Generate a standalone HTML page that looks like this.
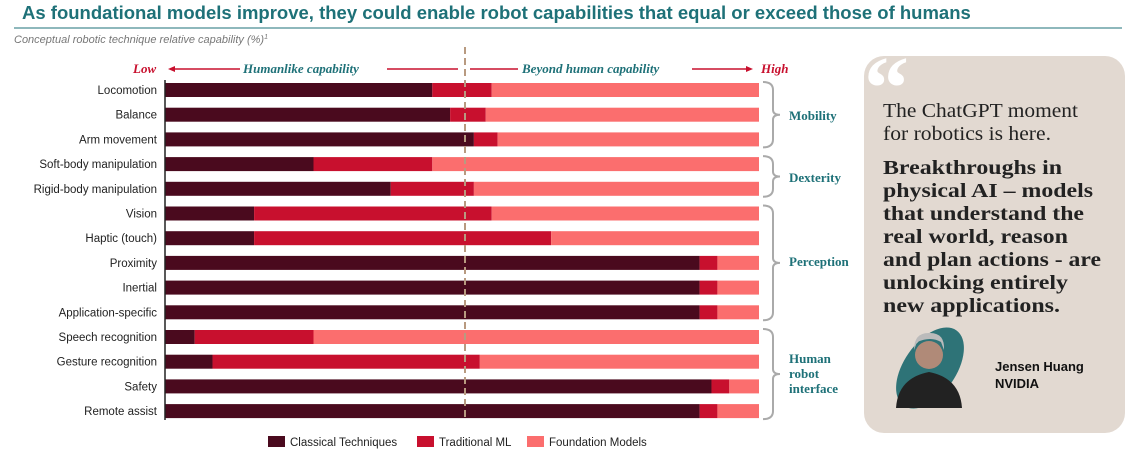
<!DOCTYPE html>
<html><head><meta charset="utf-8"><style>
body{margin:0;width:1135px;height:457px;background:#fff;overflow:hidden;font-family:"Liberation Sans",sans-serif}
</style></head><body>
<svg width="1135" height="457" xmlns="http://www.w3.org/2000/svg">
<text x="22" y="19" font-family="Liberation Sans,sans-serif" font-weight="bold" font-size="18.5" fill="#1e7178">As foundational models improve, they could enable robot capabilities that equal or exceed those of humans</text>
<line x1="14" y1="28" x2="1122" y2="28" stroke="#1e7178" stroke-width="1"/>
<text x="14" y="43" font-family="Liberation Sans,sans-serif" font-style="italic" font-size="11" fill="#777">Conceptual robotic technique relative capability (%)<tspan font-size="7" dy="-4">1</tspan></text>
<g font-family="Liberation Serif,serif" font-style="italic" font-weight="bold" font-size="13">
<text x="133" y="73" fill="#c8102e">Low</text>
<text x="243" y="73" fill="#1e7178">Humanlike capability</text>
<text x="522" y="73" fill="#1e7178">Beyond human capability</text>
<text x="761" y="73" fill="#c8102e">High</text>
<line x1="172" y1="69" x2="240" y2="69" stroke="#c8102e" stroke-width="1.5"/>
<polygon points="168,69 175,66 175,72" fill="#c8102e"/>
<line x1="387" y1="69" x2="458" y2="69" stroke="#c8102e" stroke-width="1.5"/>
<line x1="470" y1="69" x2="518" y2="69" stroke="#c8102e" stroke-width="1.5"/>
<line x1="692" y1="69" x2="748" y2="69" stroke="#c8102e" stroke-width="1.5"/>
<polygon points="753,69 746,66 746,72" fill="#c8102e"/>
</g>
<g id="bars"></g>
<g id="braces" fill="none" stroke="#aaa" stroke-width="2"></g>
<g font-family="Liberation Serif,serif" font-weight="bold" font-size="13" fill="#1e7178">
<text x="789" y="120">Mobility</text>
<text x="789" y="182">Dexterity</text>
<text x="789" y="266">Perception</text>
<text x="789" y="363">Human</text>
<text x="789" y="378">robot</text>
<text x="789" y="393">interface</text>
</g>
<g font-size="11.5" fill="#222" font-family="Liberation Sans,sans-serif">
<rect x="268" y="436" width="17" height="11" fill="#4a0a1e"/><text x="290" y="446">Classical Techniques</text>
<rect x="417" y="436" width="17" height="11" fill="#c8102e"/><text x="439" y="446">Traditional ML</text>
<rect x="527" y="436" width="17" height="11" fill="#fb6e6e"/><text x="549" y="446">Foundation Models</text>
</g>
<g>
<rect x="864" y="56" width="261" height="377" rx="20" fill="#e2d9d1"/>
<text x="864" y="118" font-family="Liberation Serif,serif" font-weight="bold" font-size="90" fill="#fff">“</text>
<g font-family="Liberation Serif,serif" font-size="20" fill="#222">
<text x="883" y="117" textLength="195" lengthAdjust="spacingAndGlyphs">The ChatGPT moment</text>
<text x="883" y="140" textLength="168" lengthAdjust="spacingAndGlyphs">for robotics is here.</text>
<g font-weight="bold">
<text x="883" y="174" textLength="179" lengthAdjust="spacingAndGlyphs">Breakthroughs in</text>
<text x="883" y="197" textLength="210" lengthAdjust="spacingAndGlyphs">physical AI – models</text>
<text x="883" y="220" textLength="201" lengthAdjust="spacingAndGlyphs">that understand the</text>
<text x="883" y="243" textLength="185" lengthAdjust="spacingAndGlyphs">real world, reason</text>
<text x="883" y="266" textLength="218" lengthAdjust="spacingAndGlyphs">and plan actions - are</text>
<text x="883" y="289" textLength="185" lengthAdjust="spacingAndGlyphs">unlocking entirely</text>
<text x="883" y="312" textLength="177" lengthAdjust="spacingAndGlyphs">new applications.</text>
</g></g>
<ellipse cx="930" cy="368" rx="26" ry="46" transform="rotate(35 930 368)" fill="#2e7377"/>
<circle cx="929" cy="355" r="14" fill="#b08a78"/>
<path d="M914,350 q0,-18 16,-17 q15,0 14,17 l-3,-8 q-10,-6 -24,0z" fill="#bbb"/>
<path d="M896,408 q2,-30 33,-36 q31,6 33,36z" fill="#222"/>
<text x="995" y="371" font-family="Liberation Sans,sans-serif" font-weight="bold" font-size="13" fill="#111">Jensen Huang</text>
<text x="995" y="388" font-family="Liberation Sans,sans-serif" font-weight="bold" font-size="13" fill="#111">NVIDIA</text>
</g>
</svg>
<script>
const categories=["Locomotion","Balance","Arm movement","Soft-body manipulation","Rigid-body manipulation","Vision","Haptic (touch)","Proximity","Inertial","Application-specific","Speech recognition","Gesture recognition","Safety","Remote assist"];
const classical=[45,48,52,25,38,15,15,90,90,90,5,8,92,90];
const traditionalML=[10,6,4,20,14,40,50,3,3,3,20,45,3,3];
const foundation=[45,46,44,55,48,45,35,7,7,7,75,47,5,7];
const groups=[["Mobility",0,2],["Dexterity",3,4],["Perception",5,9],["Human robot interface",10,13]];
const NS="http://www.w3.org/2000/svg";
const x0=165,x1=759,top0=90,step=24.7,bh=14;
const xs=v=>x0+(x1-x0)*v/100;
const ys=i=>top0+i*step;
const g=document.getElementById('bars');
function mk(tag,attrs){const e=document.createElementNS(NS,tag);for(const k in attrs)e.setAttribute(k,attrs[k]);return e;}
const colors=["#4a0a1e","#c8102e","#fb6e6e"];
categories.forEach((c,i)=>{
  const vals=[classical[i],traditionalML[i],foundation[i]];
  let acc=0;
  vals.forEach((v,j)=>{
    const r=mk('rect',{x:xs(acc),y:ys(i)-bh/2,width:xs(acc+v)-xs(acc),height:bh,fill:colors[j]});
    
    
    g.appendChild(r);acc+=v;
  });
  const t=mk('text',{x:157,y:ys(i)+4,'text-anchor':'end','font-size':'11.5',fill:'#222','font-family':'Liberation Sans,sans-serif'});
  t.textContent=c;
  
  
  g.appendChild(t);
});
const ax=mk('line',{x1:165,y1:80,x2:165,y2:420,stroke:'#222','stroke-width':1.5});


g.appendChild(ax);
const mid=mk('line',{x1:465,y1:47,x2:465,y2:420,stroke:'#b89a80','stroke-width':2,'stroke-dasharray':'7,4'});


g.appendChild(mid);
const bg=document.getElementById('braces');
groups.forEach(([n,a,b])=>{
  const y1=ys(a)-8,y2=ys(b)+8,m=(y1+y2)/2,xA=763,xB=773;
  const p=mk('path',{d:`M${xA},${y1} q${xB-xA},0 ${xB-xA},8 L${xB},${m-5} q0,5 7,5 q-7,0 -7,5 L${xB},${y2-8} q0,8 -${xB-xA},8`});
  
  
  bg.appendChild(p);
});
</script>
</body></html>
